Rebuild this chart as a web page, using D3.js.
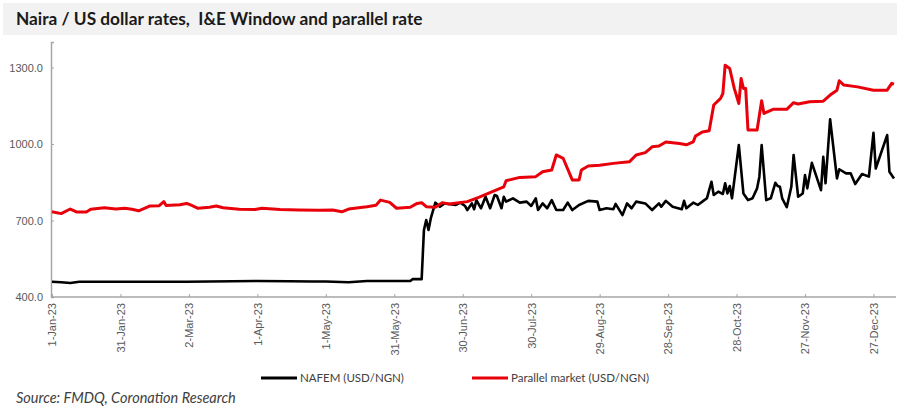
<!DOCTYPE html>
<html>
<head>
<meta charset="utf-8">
<title>Naira / US dollar rates</title>
<script src="https://d3js.org/d3.v7.min.js"></script>
<style>
  body { margin: 0; background: #fff; }
  svg { font-family: Lato, "Open Sans", sans-serif; }
  .tick-label { font-size: 11px; fill: #595959; }
  .legend-text { font-size: 11.5px; fill: #404040; }
</style>
</head>
<body>
<div id="chart"></div>
<script>
// NAFEM (I&E window) rate, USD/NGN
const nafemDates = [
  "2023-01-01","2023-01-05","2023-01-09","2023-01-13","2023-02-01","2023-03-01","2023-04-01","2023-04-15",
  "2023-04-25","2023-05-01","2023-05-11","2023-05-19","2023-06-01","2023-06-07","2023-06-08","2023-06-12",
  "2023-06-13","2023-06-14","2023-06-15","2023-06-16","2023-06-18","2023-06-20","2023-06-22","2023-06-27",
  "2023-06-29","2023-07-01","2023-07-02","2023-07-04","2023-07-05","2023-07-06","2023-07-08","2023-07-10",
  "2023-07-12","2023-07-14","2023-07-15","2023-07-17","2023-07-18","2023-07-19","2023-07-22","2023-07-25",
  "2023-07-28","2023-07-30","2023-08-01","2023-08-02","2023-08-04","2023-08-06","2023-08-08","2023-08-10",
  "2023-08-13","2023-08-15","2023-08-17","2023-08-20","2023-08-24","2023-08-28","2023-08-29","2023-09-01",
  "2023-09-04","2023-09-05","2023-09-08","2023-09-10","2023-09-12","2023-09-14","2023-09-18","2023-09-21",
  "2023-09-24","2023-09-25","2023-09-27","2023-09-30","2023-10-04","2023-10-05","2023-10-06","2023-10-09",
  "2023-10-11","2023-10-13","2023-10-15","2023-10-17","2023-10-18","2023-10-20","2023-10-22","2023-10-23",
  "2023-10-24","2023-10-25","2023-10-26","2023-10-29","2023-10-31","2023-11-02","2023-11-04","2023-11-06",
  "2023-11-07","2023-11-08","2023-11-10","2023-11-12","2023-11-14","2023-11-15","2023-11-16","2023-11-17",
  "2023-11-19","2023-11-21","2023-11-22","2023-11-24","2023-11-26","2023-11-27","2023-11-28","2023-11-30",
  "2023-12-04","2023-12-05","2023-12-06","2023-12-08","2023-12-11","2023-12-12","2023-12-15","2023-12-17",
  "2023-12-19","2023-12-22","2023-12-25","2023-12-27","2023-12-28","2024-01-02","2024-01-03","2024-01-05"
];
const nafemValues = [
  460, 458, 455, 460, 460, 460, 463, 462,
  461, 461, 458, 463, 463, 463, 470, 470,
  663, 702, 663, 708, 770, 754, 767, 761,
  770, 757, 741, 767, 744, 780, 748, 793,
  748, 800, 796, 748, 793, 774, 787, 770,
  774, 757, 787, 741, 767, 748, 780, 741,
  741, 770, 741, 761, 777, 774, 741, 748,
  744, 765, 721, 767, 748, 774, 767, 741,
  767, 754, 777, 754, 744, 777, 748, 770,
  761, 774, 787, 852, 800, 813, 804, 846,
  806, 835, 787, 996, 806, 780, 787, 826,
  872, 996, 780, 787, 848, 835, 832, 787,
  752, 832, 957, 793, 806, 878, 826, 926,
  819, 950, 846, 1097, 865, 901, 885, 885,
  843, 882, 872, 1044, 904, 1035, 891, 865
];

// Parallel market rate, USD/NGN
const parallelDates = [
  "2023-01-01","2023-01-05","2023-01-09","2023-01-12","2023-01-16","2023-01-18","2023-01-21","2023-01-24",
  "2023-01-29","2023-02-02","2023-02-05","2023-02-08","2023-02-13","2023-02-17","2023-02-19","2023-02-20",
  "2023-02-26","2023-03-01","2023-03-03","2023-03-06","2023-03-11","2023-03-14","2023-03-17","2023-03-24",
  "2023-03-31","2023-04-03","2023-04-11","2023-04-19","2023-04-28","2023-05-04","2023-05-08","2023-05-11",
  "2023-05-19","2023-05-23","2023-05-25","2023-05-29","2023-06-01","2023-06-07","2023-06-10","2023-06-12",
  "2023-06-14","2023-06-18","2023-06-21","2023-06-24","2023-07-02","2023-07-07","2023-07-13","2023-07-18",
  "2023-07-19","2023-07-25","2023-08-01","2023-08-04","2023-08-08","2023-08-10","2023-08-13","2023-08-17",
  "2023-08-20","2023-08-21","2023-08-24","2023-08-29","2023-09-04","2023-09-11","2023-09-14","2023-09-18",
  "2023-09-21","2023-09-24","2023-09-27","2023-10-03","2023-10-06","2023-10-09","2023-10-10","2023-10-13",
  "2023-10-16","2023-10-18","2023-10-21","2023-10-22","2023-10-23","2023-10-25","2023-10-27","2023-10-29",
  "2023-10-30","2023-10-31","2023-11-01","2023-11-02","2023-11-06","2023-11-08","2023-11-09","2023-11-13",
  "2023-11-19","2023-11-22","2023-11-24","2023-11-29","2023-12-05","2023-12-08","2023-12-11","2023-12-12",
  "2023-12-14","2023-12-20","2023-12-27","2024-01-02","2024-01-04","2024-01-05"
];
const parallelValues = [
  734, 727, 745, 733, 733, 744, 747, 750,
  745, 748, 744, 738, 757, 758, 774, 759,
  762, 767, 760, 748, 752, 757, 750, 744,
  743, 748, 743, 741, 740, 741, 734, 745,
  754, 760, 780, 771, 748, 752, 767, 770,
  754, 752, 770, 765, 774, 791, 813, 832,
  856, 869, 872, 891, 898, 957, 944, 859,
  859, 898, 914, 917, 924, 930, 957, 966,
  989, 992, 1008, 1002, 997, 1008, 1031, 1047,
  1052, 1153, 1179, 1198, 1309, 1296, 1218, 1159,
  1257, 1218, 1218, 1055, 1055, 1170, 1120, 1136,
  1136, 1162, 1157, 1166, 1168, 1192, 1211, 1248,
  1231, 1224, 1211, 1211, 1238, 1235
];

const yTicks = [400, 700, 1000, 1300];
const xTickDates = [
  "2023-01-01","2023-01-31","2023-03-02","2023-04-01","2023-05-01","2023-05-31","2023-06-30",
  "2023-07-30","2023-08-29","2023-09-28","2023-10-28","2023-11-27","2023-12-27"
];
const seriesNames = ["NAFEM (USD/NGN)", "Parallel market (USD/NGN)"];
const seriesColors = ["#000000", "#e8000b"];

const W = 900, H = 410;
const parse = d3.timeParse("%Y-%m-%d");
const fmtTick = d => `${d.getDate()}-${d3.timeFormat("%b-%y")(d)}`;

const svg = d3.select("#chart").append("svg")
  .attr("width", W).attr("height", H);

// title band
svg.append("rect")
  .attr("x", 3).attr("y", 3).attr("width", 894).attr("height", 32)
  .attr("fill", "#f2f2f2");
svg.append("text")
  .attr("x", 16).attr("y", 25)
  .attr("font-size", 17.3).attr("font-weight", "bold").attr("fill", "#1a1a1a")
  .style("white-space", "pre")
  .text("Naira / US dollar rates,  I&E Window and parallel rate");

const x = d3.scaleTime()
  .domain([parse("2023-01-01"), parse("2024-01-05")])
  .range([52, 894]);
const y = d3.scaleLinear()
  .domain([400, 1400])
  .range([297, 42]);

// y axis
const yAxis = svg.append("g")
  .attr("transform", `translate(${x.range()[0] - 1},0)`)
  .call(d3.axisRight(y).tickValues(yTicks).tickSize(3).tickFormat(d3.format(".1f")));
yAxis.select(".domain").attr("stroke", "#a6a6a6").attr("stroke-width", 1.5);
yAxis.selectAll(".tick line").attr("stroke", "#a6a6a6");
yAxis.selectAll(".tick text")
  .attr("class", "tick-label")
  .attr("x", -8).attr("text-anchor", "end");

// x axis
const xAxis = svg.append("g")
  .attr("transform", `translate(0,${y(400)})`)
  .call(d3.axisTop(x).tickValues(xTickDates.map(parse)).tickSize(3).tickFormat(fmtTick));
xAxis.select(".domain").attr("stroke", "#a6a6a6").attr("stroke-width", 1.5)
  .attr("d", `M${x.range()[0] - 1},0H${x.range()[1] + 2}`);
xAxis.selectAll(".tick line").attr("stroke", "#a6a6a6");
xAxis.selectAll(".tick text")
  .attr("class", "tick-label")
  .attr("transform", "rotate(-90)")
  .attr("x", -6).attr("y", 0).attr("dy", "0.35em")
  .attr("text-anchor", "end");

const line = d3.line()
  .x(d => x(d.date))
  .y(d => y(d.value));

const nafem = nafemDates.map((d, i) => ({ date: parse(d), value: nafemValues[i] }));
const parallel = parallelDates.map((d, i) => ({ date: parse(d), value: parallelValues[i] }));

svg.append("path")
  .datum(nafem)
  .attr("fill", "none").attr("stroke", seriesColors[0])
  .attr("stroke-width", 2.6).attr("stroke-linejoin", "round")
  .attr("d", line);

svg.append("path")
  .datum(parallel)
  .attr("fill", "none").attr("stroke", seriesColors[1])
  .attr("stroke-width", 3).attr("stroke-linejoin", "round")
  .attr("d", line);

// legend
const legendX = [261, 472];
const legend = svg.append("g");
seriesNames.forEach((name, i) => {
  legend.append("line")
    .attr("x1", legendX[i]).attr("x2", legendX[i] + 36)
    .attr("y1", 378).attr("y2", 378)
    .attr("stroke", seriesColors[i]).attr("stroke-width", 3);
  legend.append("text")
    .attr("class", "legend-text")
    .attr("x", legendX[i] + 39).attr("y", 382)
    .text(name);
});

// source
svg.append("text")
  .attr("x", 16).attr("y", 403)
  .attr("font-size", 14.5).attr("font-style", "italic").attr("fill", "#404040")
  .text("Source: FMDQ, Coronation Research");
</script>
</body>
</html>
